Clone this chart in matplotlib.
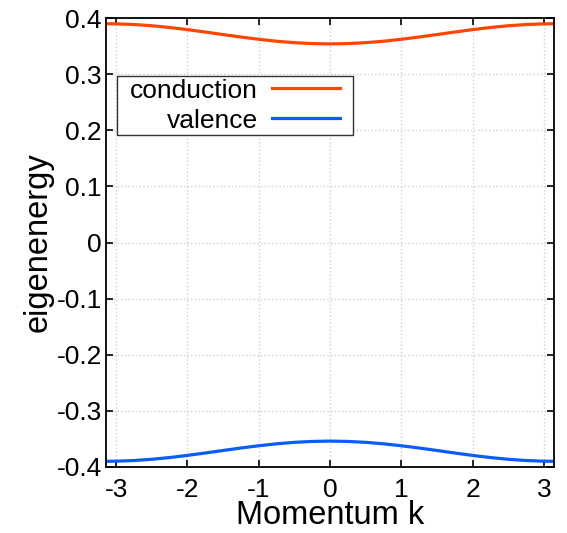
import numpy as np
import matplotlib.pyplot as plt
from matplotlib.patches import Rectangle

plt.rcParams['font.family'] = ['Liberation Sans', 'DejaVu Sans']

# values (band is symmetric around k = 0)
k = [-3.1416, -3.0, -2.75, -2.5, -2.25, -2.0, -1.75, -1.5, -1.25, -1.0, -0.75, -0.5, -0.25, 0.0,
     0.25, 0.5, 0.75, 1.0, 1.25, 1.5, 1.75, 2.0, 2.25, 2.5, 2.75, 3.0, 3.1416]
conduction = [0.3900, 0.3898, 0.3886, 0.3864, 0.3833, 0.3795, 0.3752, 0.3707, 0.3663, 0.3623, 0.3588, 0.3562, 0.3546, 0.3540,
              0.3546, 0.3562, 0.3588, 0.3623, 0.3663, 0.3707, 0.3752, 0.3795, 0.3833, 0.3864, 0.3886, 0.3898, 0.3900]
valence = [-v for v in conduction]

xticks = [-3, -2, -1, 0, 1, 2, 3]
yticks = [-0.4, -0.3, -0.2, -0.1, 0, 0.1, 0.2, 0.3, 0.4]
yticklabels = ['-0.4', '-0.3', '-0.2', '-0.1', '0', '0.1', '0.2', '0.3', '0.4']
xticklabels = ['-3', '-2', '-1', '0', '1', '2', '3']

fig = plt.figure(figsize=(5.67, 5.33), dpi=100)
ax = fig.add_axes([0.187, 0.124, 0.79, 0.842])

ax.plot(k, conduction, color='#ff4500', lw=2.3, label='conduction')
ax.plot(k, valence, color='#0a5cff', lw=2.3, label='valence')

ax.set_xlim(-np.pi, np.pi)
ax.set_ylim(-0.4, 0.4)
ax.set_xticks(xticks)
ax.set_xticklabels(xticklabels)
ax.set_yticks(yticks)
ax.set_yticklabels(yticklabels)
ax.tick_params(direction='in', length=5, width=1.2, top=True, right=True, labelsize=19)
ax.tick_params(axis='x', pad=8)
ax.tick_params(axis='y', pad=3)
ax.grid(True, color='#d0d0d0', linestyle=':', linewidth=1)
for s in ax.spines.values():
    s.set_linewidth(1.3)

ax.set_xlabel('Momentum k', fontsize=23.5, labelpad=-1.5)
ax.set_ylabel('eigenenergy', fontsize=23.5, labelpad=2)

leg = ax.legend(loc='upper left', bbox_to_anchor=(0.047, 0.871), markerfirst=False,
                fontsize=19, frameon=False,
                handlelength=2.6, borderpad=0.1, labelspacing=0.23, handletextpad=0.53,
                borderaxespad=0)
for t in leg.get_texts():
    t.set_ha('right')
leg._legend_box.align = 'right'

# gnuplot-like frame: wider side margins than top/bottom
fig.canvas.draw()
bb = leg.get_window_extent()
ax.add_patch(Rectangle((bb.x0 - 10, bb.y0), bb.width + 20, bb.height, transform=None,
                       facecolor='white', edgecolor='#333333', lw=1.0, zorder=4.9))

plt.savefig('out.png', dpi=100)
